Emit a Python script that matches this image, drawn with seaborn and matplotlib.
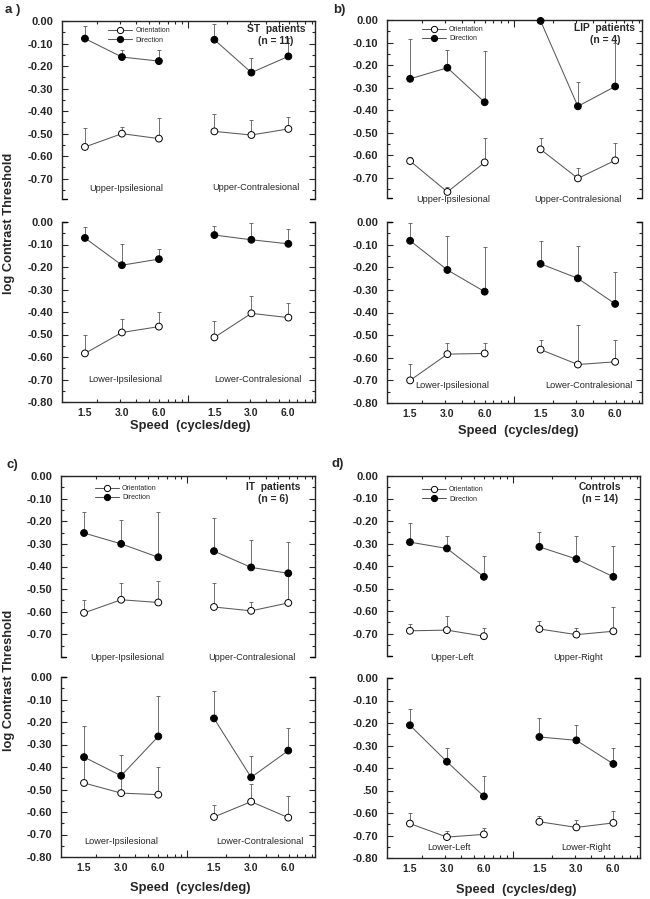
import numpy as np
import pandas as pd
import matplotlib
matplotlib.use("Agg")
import matplotlib.pyplot as plt
import seaborn as sns
from matplotlib.lines import Line2D
from matplotlib.ticker import MultipleLocator

# x slots: three speeds per visual-field group
speed_labels = ["1.5", "3.0", "6.0"]
positions = [0, 1, 2, 3.5, 4.5, 5.5]
conditions = ["Orientation", "Direction"]

# values (mean, and top of the upper error bar)
a_upper_dir = [-0.078, -0.160, -0.178, -0.083, -0.229, -0.157]
a_upper_dir_tip = [-0.024, -0.127, -0.127, -0.015, -0.163, -0.075]
a_upper_ori = [-0.559, -0.500, -0.522, -0.490, -0.506, -0.479]
a_upper_ori_tip = [-0.476, -0.470, -0.429, -0.411, -0.441, -0.426]
a_lower_dir = [-0.071, -0.192, -0.165, -0.058, -0.079, -0.097]
a_lower_dir_tip = [-0.024, -0.097, -0.120, -0.016, -0.004, -0.030]
a_lower_ori = [-0.584, -0.491, -0.465, -0.513, -0.406, -0.425]
a_lower_ori_tip = [-0.500, -0.433, -0.400, -0.442, -0.329, -0.358]

b_upper_dir = [-0.261, -0.212, -0.365, -0.004, -0.383, -0.295]
b_upper_dir_tip = [-0.086, -0.134, -0.137, -0.004, -0.274, -0.104]
b_upper_ori = [-0.626, -0.763, -0.632, -0.574, -0.703, -0.623]
b_upper_ori_tip = [-0.608, -0.741, -0.522, -0.522, -0.656, -0.544]
b_lower_dir = [-0.083, -0.212, -0.308, -0.185, -0.249, -0.362]
b_lower_dir_tip = [-0.004, -0.064, -0.112, -0.083, -0.104, -0.223]
b_lower_ori = [-0.700, -0.584, -0.581, -0.564, -0.630, -0.618]
b_lower_ori_tip = [-0.629, -0.537, -0.537, -0.522, -0.456, -0.522]

c_upper_dir = [-0.252, -0.300, -0.359, -0.332, -0.404, -0.430]
c_upper_dir_tip = [-0.159, -0.196, -0.159, -0.184, -0.282, -0.292]
c_upper_ori = [-0.605, -0.547, -0.559, -0.579, -0.596, -0.561]
c_upper_ori_tip = [-0.549, -0.475, -0.463, -0.475, -0.555, -0.430]
c_lower_dir = [-0.356, -0.439, -0.264, -0.184, -0.446, -0.327]
c_lower_dir_tip = [-0.216, -0.348, -0.083, -0.064, -0.353, -0.228]
c_lower_ori = [-0.471, -0.516, -0.523, -0.622, -0.554, -0.625]
c_lower_ori_tip = [-0.370, -0.430, -0.400, -0.570, -0.474, -0.527]

d_upper_dir = [-0.294, -0.322, -0.448, -0.315, -0.369, -0.448]
d_upper_dir_tip = [-0.211, -0.267, -0.355, -0.248, -0.266, -0.309]
d_upper_ori = [-0.688, -0.685, -0.712, -0.680, -0.705, -0.690]
d_upper_ori_tip = [-0.659, -0.623, -0.674, -0.645, -0.674, -0.582]
d_lower_dir = [-0.210, -0.372, -0.526, -0.262, -0.277, -0.382]
d_lower_dir_tip = [-0.138, -0.311, -0.437, -0.179, -0.209, -0.311]
d_lower_ori = [-0.647, -0.707, -0.695, -0.639, -0.664, -0.644]
d_lower_ori_tip = [-0.600, -0.681, -0.667, -0.615, -0.630, -0.593]

upper_yticks = [0.0, -0.1, -0.2, -0.3, -0.4, -0.5, -0.6, -0.7]
lower_yticks = [0.0, -0.1, -0.2, -0.3, -0.4, -0.5, -0.6, -0.7, -0.8]

panel_letters = ["a )", "b)", "c)", "d)"]
group_titles = ["ST  patients\n(n = 11)", "LIP  patients\n(n = 4)",
                "IT  patients\n(n = 6)", "Controls\n(n = 14)"]
field_names = [
    ["Upper-Ipsilesional", "Upper-Contralesional", "Lower-Ipsilesional", "Lower-Contralesional"],
    ["Upper-Ipsilesional", "Upper-Contralesional", "Lower-Ipsilesional", "Lower-Contralesional"],
    ["Upper-Ipsilesional", "Upper-Contralesional", "Lower-Ipsilesional", "Lower-Contralesional"],
    ["Upper-Left", "Upper-Right", "Lower-Left", "Lower-Right"],
]

W, H = 650, 899
LINE = "0.35"
PALETTE = {"Orientation": "white", "Direction": "black"}
# decorative log-style ticks along the x frame
DEC_START, DECADE, MID = -0.73, 3.51, 2.78

sns.set_style("ticks")
plt.rcParams["font.family"] = ["Liberation Sans", "DejaVu Sans"]
plt.rcParams["axes.unicode_minus"] = False


def box(l, t, r, b):
    return [l / W, 1 - b / H, (r - l) / W, (b - t) / H]


def fig_xy(x, y):
    return x / W, 1 - y / H


def draw_half(ax, dir_mean, dir_tip, ori_mean, ori_tip):
    df = pd.DataFrame({
        "pos": positions * 2,
        "value": ori_mean + dir_mean,
        "tip": ori_tip + dir_tip,
        "cond": ["Orientation"] * 6 + ["Direction"] * 6,
        "group": (["g1"] * 3 + ["g2"] * 3) * 2,
    })
    df["unit"] = df["cond"] + df["group"]
    ax.errorbar(df["pos"], df["value"],
                yerr=[np.zeros(len(df)), (df["tip"] - df["value"]).values],
                fmt="none", ecolor=LINE, elinewidth=0.6, capsize=1.6,
                capthick=0.6, zorder=1)
    sns.lineplot(data=df, x="pos", y="value", units="unit", estimator=None,
                 color=LINE, lw=0.75, ax=ax, zorder=2, legend=False)
    sns.scatterplot(data=df, x="pos", y="value", hue="cond", palette=PALETTE,
                    edgecolor="black", linewidth=0.7, s=24, ax=ax, zorder=3,
                    legend=False, clip_on=False)
    ax.set_xlabel("")
    ax.set_ylabel("")


def setup(ax, part, ylim, yticks, ylabels):
    ax.set_xlim(-0.62, 6.22)
    ax.set_ylim(ylim, 0)
    ax.set_yticks(yticks, ylabels)
    ax.yaxis.set_minor_locator(MultipleLocator(0.05))
    ax.tick_params(axis="y", which="both", direction="in", left=True, right=True,
                   labelsize=8, pad=6.5, width=0.8)
    ax.tick_params(axis="y", which="major", length=4)
    ax.tick_params(axis="y", which="minor", length=2)
    for t in ax.get_yticklabels():
        t.set_fontweight("bold")

    minor = [DEC_START + DECADE * np.log10(k) for k in range(2, 10)]
    minor += [MID + DECADE * np.log10(k) for k in range(2, 10)]
    ax.set_xticks([MID])
    ax.set_xticks(minor, minor=True)
    upper = part == "upper"
    ax.tick_params(axis="x", which="both", direction="in", labelbottom=False,
                   labeltop=False, bottom=not upper, top=upper, width=0.8)
    ax.tick_params(axis="x", which="major", length=5)
    ax.tick_params(axis="x", which="minor", length=2.5)

    for s in ax.spines.values():
        s.set_linewidth(1.0)
    hidden = "bottom" if upper else "top"
    ax.spines[hidden].set_visible(False)
    yh = 0 if upper else 1
    for xs in ([0, 0.02], [0.98, 1]):
        ax.plot(xs, [yh, yh], transform=ax.transAxes, color="black", lw=1.0,
                clip_on=False)

    if not upper:
        sec = ax.secondary_xaxis("bottom")
        sec.set_xticks(positions, speed_labels * 2)
        sec.tick_params(length=0, labelsize=7.5, pad=4.5)
        sec.spines["bottom"].set_visible(False)
        for t in sec.get_xticklabels():
            t.set_fontweight("bold")


def labels_for(ticks, override=None):
    out = []
    for v in ticks:
        lab = f"{v:.2f}" if v != 0 else "0.00"
        if override and v in override:
            lab = override[v]
        out.append(lab)
    return out


fig = plt.figure(figsize=(W / 100, H / 100), dpi=100)

panel_data = [
    (a_upper_dir, a_upper_dir_tip, a_upper_ori, a_upper_ori_tip,
     a_lower_dir, a_lower_dir_tip, a_lower_ori, a_lower_ori_tip),
    (b_upper_dir, b_upper_dir_tip, b_upper_ori, b_upper_ori_tip,
     b_lower_dir, b_lower_dir_tip, b_lower_ori, b_lower_ori_tip),
    (c_upper_dir, c_upper_dir_tip, c_upper_ori, c_upper_ori_tip,
     c_lower_dir, c_lower_dir_tip, c_lower_ori, c_lower_ori_tip),
    (d_upper_dir, d_upper_dir_tip, d_upper_ori, d_upper_ori_tip,
     d_lower_dir, d_lower_dir_tip, d_lower_ori, d_lower_ori_tip),
]

# pixel layout per panel: x range, upper box, lower box, upper ylim
layout = [
    dict(x=(62, 315), up=(21, 199), lo=(222, 402), ylim=-0.79, legend=(0.182, 0.965),
         letter=(13, 10), title=(276, 35), ylab=223, xlab=(190, 426),
         fields=[(126, 188), (256, 187), (125, 379), (258, 380)]),
    dict(x=(387, 642), up=(20, 198), lo=(222, 403), ylim=-0.79, legend=(0.137, 0.966),
         letter=(339, 10), title=(605, 34), ylab=None, xlab=(518, 431),
         fields=[(453, 200), (578, 200), (452, 385), (589, 385)]),
    dict(x=(61, 315), up=(476, 657), lo=(677, 857), ylim=-0.80, legend=(0.134, 0.95),
         letter=(12, 465), title=(273, 493), ylab=680, xlab=(190, 888),
         fields=[(127, 658), (252, 658), (121, 841), (260, 841)]),
    dict(x=(387, 640), up=(476, 656), lo=(678, 858), ylim=-0.80, legend=(0.138, 0.944),
         letter=(338, 464), title=(600, 493), ylab=None, xlab=(516, 890),
         fields=[(452, 658), (578, 658), (449, 847), (586, 847)]),
]

legend_handles = [
    Line2D([], [], color=LINE, lw=0.75, marker="o", markersize=4.5,
           markerfacecolor=PALETTE[c], markeredgecolor="black", markeredgewidth=0.7)
    for c in conditions
]

for i, (data, lay) in enumerate(zip(panel_data, layout)):
    l, r = lay["x"]
    ax_up = fig.add_axes(box(l, lay["up"][0], r, lay["up"][1]))
    ax_lo = fig.add_axes(box(l, lay["lo"][0], r, lay["lo"][1]))

    draw_half(ax_up, *data[:4])
    draw_half(ax_lo, *data[4:])

    setup(ax_up, "upper", lay["ylim"], upper_yticks, labels_for(upper_yticks))
    override = {-0.5: ".50"} if i == 3 else None
    setup(ax_lo, "lower", -0.80, lower_yticks, labels_for(lower_yticks, override))

    ax_up.legend(legend_handles, conditions, loc="upper left",
                 bbox_to_anchor=lay["legend"], frameon=False, fontsize=5,
                 handlelength=3.4, handletextpad=0.5, labelspacing=0.35,
                 borderpad=0, borderaxespad=0)

    fig.text(*fig_xy(*lay["letter"]), panel_letters[i], fontsize=9.5,
             fontweight="bold", ha="center", va="center")
    fig.text(*fig_xy(*lay["title"]), group_titles[i], fontsize=7.4,
             fontweight="bold", ha="center", va="center", linespacing=1.2)
    for name, (fx, fy) in zip(field_names[i], lay["fields"]):
        fig.text(*fig_xy(fx, fy), name, fontsize=6.6, ha="center", va="center")
    fig.text(*fig_xy(*lay["xlab"]), "Speed  (cycles/deg)", fontsize=9.3,
             fontweight="bold", ha="center", va="center")
    if lay["ylab"] is not None:
        fig.text(*fig_xy(9, lay["ylab"]), "log Contrast Threshold", fontsize=9.3,
                 fontweight="bold", rotation=90, ha="center", va="center")

fig.savefig("out.png", dpi=100)
